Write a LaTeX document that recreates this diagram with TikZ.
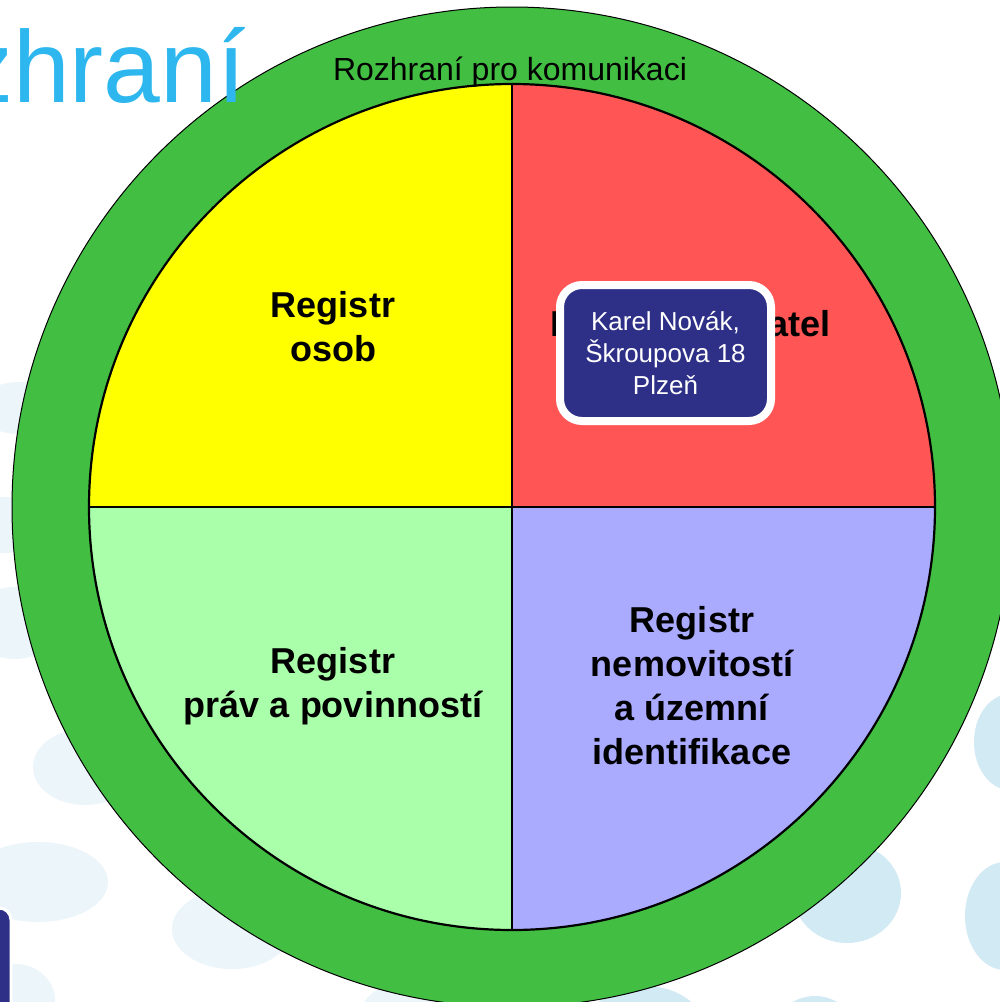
\documentclass[tikz,border=0pt]{standalone}
\usepackage{fontspec}
\setmainfont{Liberation Sans}
\definecolor{ringgreen}{RGB}{66,191,66}
\definecolor{qyellow}{RGB}{255,255,0}
\definecolor{qred}{RGB}{255,85,85}
\definecolor{qgreen}{RGB}{170,255,170}
\definecolor{qblue}{RGB}{170,170,255}
\definecolor{boxblue}{RGB}{46,48,135}
\definecolor{titleblue}{RGB}{45,183,238}
\definecolor{bubblelight}{RGB}{236,245,250}
\definecolor{bubbledark}{RGB}{210,234,243}
\begin{document}
\begin{tikzpicture}[x=0.5pt,y=-0.5pt,
  regtext/.style={align=center,inner sep=0pt,font=\bfseries\fontsize{18}{22}\selectfont},
  karelbox/.style={draw=white,line width=4pt,fill=boxblue,rounded corners=11pt,
    minimum width=105.5pt,minimum height=68pt,inner sep=0pt,align=center,
    text=white,font=\fontsize{13}{16}\selectfont},
  bubL/.style={fill=bubblelight},
  bubD/.style={fill=bubbledark}]
\clip (0,0) rectangle (1000,1002);
\fill[white] (0,0) rectangle (1000,1002);
% background bubbles
\fill[bubL] (20,408) ellipse[x radius=22pt,y radius=13pt];
\fill[bubL] (5,525) ellipse[x radius=18pt,y radius=14pt];
\fill[bubL] (15,623) ellipse[x radius=22pt,y radius=18pt];
\fill[bubL] (85,767) ellipse[x radius=26pt,y radius=19pt];
\fill[bubL] (38,882) ellipse[x radius=35pt,y radius=20pt];
\fill[bubL] (232,929) ellipse[x radius=30pt,y radius=20pt];
\fill[bubL] (15,1000) ellipse[x radius=20pt,y radius=18pt];
\fill[bubL] (420,1015) ellipse[x radius=30pt,y radius=18pt];
\fill[bubD] (847,893) ellipse[x radius=27pt,y radius=25pt];
\fill[bubD] (1005,916) ellipse[x radius=20pt,y radius=27pt];
\fill[bubD] (1010,742) ellipse[x radius=18pt,y radius=24pt];
\fill[bubD] (815,1040) ellipse[x radius=22pt,y radius=22pt];
\fill[bubD] (645,1030) ellipse[x radius=30pt,y radius=22pt];
% outer ring
\draw[line width=0.5pt,fill=ringgreen] (512,507) circle[radius=250pt];
% quadrants
\begin{scope}
  \clip (512,507) circle[radius=211.5pt];
  \fill[qyellow] (512,507) rectangle (0,0);
  \fill[qred] (512,507) rectangle (1000,0);
  \fill[qgreen] (512,507) rectangle (0,1002);
  \fill[qblue] (512,507) rectangle (1000,1002);
\end{scope}
\draw[line width=1.1pt] (512,507) circle[radius=211.5pt];
\draw[line width=1.1pt] (512,84) -- (512,930);
\draw[line width=1.1pt] (89,507) -- (935,507);
% labels
\node[font=\fontsize{16}{19}\selectfont,inner sep=0pt] (iface) at (510,72) {Rozhraní pro komunikaci};
\node[regtext] (osob) at (333,327) {Registr\\osob};
\node[regtext] (obyv) at (691,327) {Registr obyvatel};
\node[regtext] (prav) at (333,686) {Registr\\práv a povinností};
\node[regtext] (nemo) at (692,686) {Registr\\nemovitostí\\a územní\\identifikace};
\node[karelbox] (karel) at (665.5,353) {Karel Novák,\\Škroupova 18\\Plzeň};
% slide title fragment
\node[anchor=base east,inner sep=0pt,text=titleblue,font=\fontsize{51}{60}\selectfont] (title) at (246,102) {Rozhraní};
% bottom-left slide element
\draw[draw=white,line width=1.5pt,fill=boxblue,rounded corners=6pt] (-30,908) rectangle (11,1040);
\end{tikzpicture}
\end{document}
